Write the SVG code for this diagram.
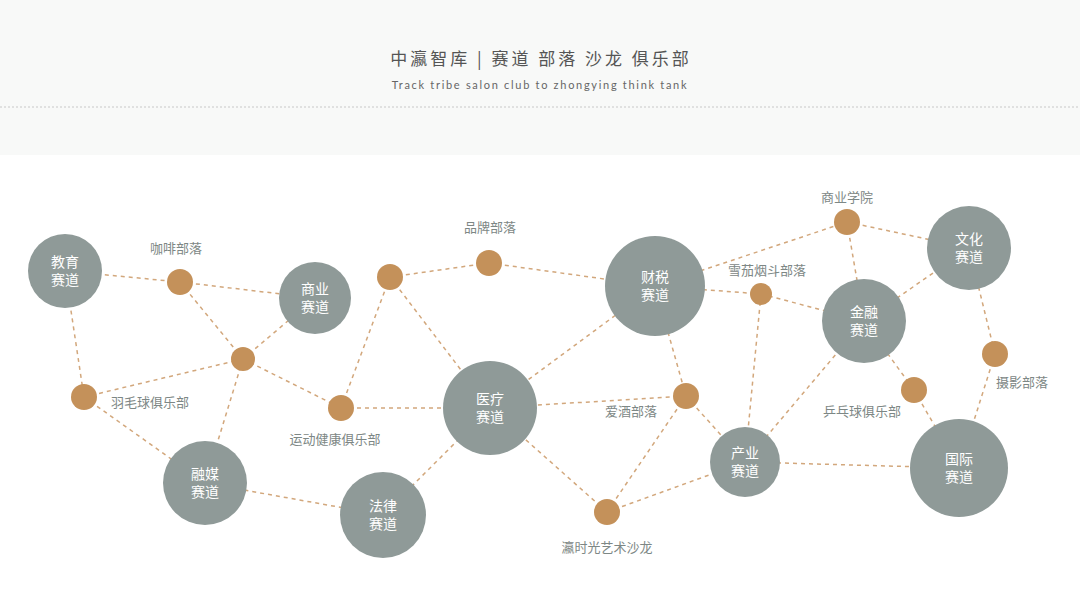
<svg xmlns="http://www.w3.org/2000/svg" width="1080" height="611" viewBox="0 0 1080 611">
<style>
.big{fill:#8f9a98}
.dot{fill:#c4915a}
.e line{stroke:#d2a77c;stroke-width:1.5;stroke-dasharray:4 4}
.nt{font-family:"Noto Sans CJK SC",sans-serif;font-size:14px;fill:#fff;text-anchor:middle}
.lt{font-family:"Noto Sans CJK SC",sans-serif;font-size:13px;fill:#7d8785;text-anchor:middle}
</style>
<rect width="1080" height="611" fill="#fff"/>
<rect width="1080" height="155" fill="#f8f9f8"/>
<line x1="0" y1="107" x2="1080" y2="107" stroke="#c8c8c8" stroke-dasharray="2 2"/>
<text x="541" y="65" font-family="Noto Sans CJK SC,sans-serif" font-size="17" fill="#555" text-anchor="middle" letter-spacing="3">中瀛智库 | 赛道 部落 沙龙 俱乐部</text>
<text x="540" y="89" font-family="Lato,sans-serif" font-size="11" fill="#666" text-anchor="middle" letter-spacing="1.7">Track tribe salon club to zhongying think tank</text>
<g class="e" id="connectors">
<line x1="65" y1="271" x2="180" y2="282"/><line x1="65" y1="271" x2="84" y2="397"/>
<line x1="180" y1="282" x2="315" y2="298"/><line x1="180" y1="282" x2="243" y2="359"/>
<line x1="243" y1="359" x2="315" y2="298"/><line x1="243" y1="359" x2="84" y2="397"/>
<line x1="243" y1="359" x2="341" y2="408"/><line x1="243" y1="359" x2="205" y2="483"/>
<line x1="84" y1="397" x2="205" y2="483"/><line x1="205" y1="483" x2="383" y2="515"/>
<line x1="341" y1="408" x2="490" y2="408"/><line x1="341" y1="408" x2="390" y2="277"/>
<line x1="390" y1="277" x2="489" y2="263"/><line x1="390" y1="277" x2="490" y2="408"/>
<line x1="489" y1="263" x2="655" y2="286"/><line x1="490" y1="408" x2="655" y2="286"/>
<line x1="490" y1="408" x2="686" y2="396"/><line x1="490" y1="408" x2="607" y2="512"/>
<line x1="383" y1="515" x2="490" y2="408"/>
<line x1="655" y1="286" x2="761" y2="294"/><line x1="655" y1="286" x2="686" y2="396"/>
<line x1="655" y1="286" x2="847" y2="222"/>
<line x1="847" y1="222" x2="969" y2="248"/><line x1="847" y1="222" x2="864" y2="321"/>
<line x1="761" y1="294" x2="864" y2="321"/><line x1="761" y1="294" x2="745" y2="462"/>
<line x1="686" y1="396" x2="745" y2="462"/><line x1="686" y1="396" x2="607" y2="512"/>
<line x1="607" y1="512" x2="745" y2="462"/><line x1="745" y1="462" x2="864" y2="321"/>
<line x1="745" y1="462" x2="959" y2="468"/><line x1="864" y1="321" x2="969" y2="248"/>
<line x1="864" y1="321" x2="914" y2="390"/><line x1="914" y1="390" x2="959" y2="468"/>
<line x1="969" y1="248" x2="995" y2="354"/><line x1="995" y1="354" x2="959" y2="468"/>
</g>
<g id="n-edu"><circle class="big" cx="65" cy="271" r="37"/><text class="nt" x="65" y="267">教育</text><text class="nt" x="65" y="285">赛道</text></g>
<g id="n-biz"><circle class="big" cx="315" cy="298" r="36"/><text class="nt" x="315" y="294">商业</text><text class="nt" x="315" y="312">赛道</text></g>
<g id="n-media"><circle class="big" cx="205" cy="483" r="42"/><text class="nt" x="205" y="479">融媒</text><text class="nt" x="205" y="497">赛道</text></g>
<g id="n-law"><circle class="big" cx="383" cy="515" r="43"/><text class="nt" x="383" y="511">法律</text><text class="nt" x="383" y="529">赛道</text></g>
<g id="n-med"><circle class="big" cx="490" cy="408" r="47"/><text class="nt" x="490" y="404">医疗</text><text class="nt" x="490" y="422">赛道</text></g>
<g id="n-tax"><circle class="big" cx="655" cy="286" r="50"/><text class="nt" x="655" y="282">财税</text><text class="nt" x="655" y="300">赛道</text></g>
<g id="n-ind"><circle class="big" cx="745" cy="462" r="35"/><text class="nt" x="745" y="458">产业</text><text class="nt" x="745" y="476">赛道</text></g>
<g id="n-fin"><circle class="big" cx="864" cy="321" r="42"/><text class="nt" x="864" y="317">金融</text><text class="nt" x="864" y="335">赛道</text></g>
<g id="n-cul"><circle class="big" cx="969" cy="248" r="42"/><text class="nt" x="969" y="244">文化</text><text class="nt" x="969" y="262">赛道</text></g>
<g id="n-intl"><circle class="big" cx="959" cy="468" r="49"/><text class="nt" x="959" y="464">国际</text><text class="nt" x="959" y="482">赛道</text></g>
<g id="d-coffee"><circle class="dot" cx="180" cy="282" r="13"/><text class="lt" x="176" y="253">咖啡部落</text></g>
<g id="d-a"><circle class="dot" cx="243" cy="359" r="12"/></g>
<g id="d-badm"><circle class="dot" cx="84" cy="397" r="13"/><text class="lt" x="150" y="407">羽毛球俱乐部</text></g>
<g id="d-b"><circle class="dot" cx="390" cy="277" r="13"/></g>
<g id="d-brand"><circle class="dot" cx="489" cy="263" r="13"/><text class="lt" x="490" y="232">品牌部落</text></g>
<g id="d-sport"><circle class="dot" cx="341" cy="408" r="13"/><text class="lt" x="335" y="444">运动健康俱乐部</text></g>
<g id="d-wine"><circle class="dot" cx="686" cy="396" r="13"/><text class="lt" x="631" y="416">爱酒部落</text></g>
<g id="d-art"><circle class="dot" cx="607" cy="512" r="13"/><text class="lt" x="607" y="552">瀛时光艺术沙龙</text></g>
<g id="d-cigar"><circle class="dot" cx="761" cy="294" r="11"/><text class="lt" x="767" y="275">雪茄烟斗部落</text></g>
<g id="d-school"><circle class="dot" cx="847" cy="222" r="13"/><text class="lt" x="847" y="202">商业学院</text></g>
<g id="d-pp"><circle class="dot" cx="914" cy="390" r="13"/><text class="lt" x="862" y="416">乒乓球俱乐部</text></g>
<g id="d-photo"><circle class="dot" cx="995" cy="354" r="13"/><text class="lt" x="1022" y="387">摄影部落</text></g>
</svg>
